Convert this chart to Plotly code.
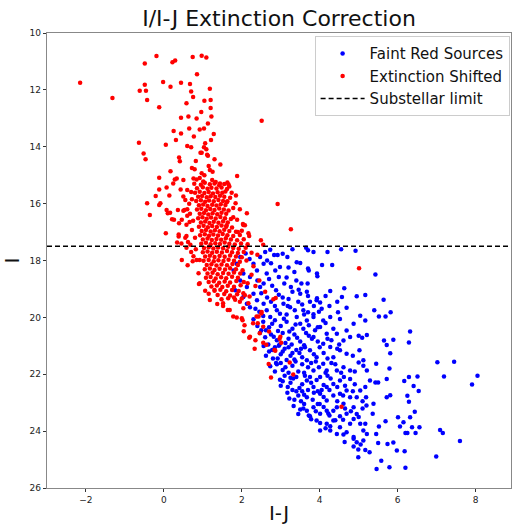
import plotly.graph_objects as go

# ---- data (I-J colour, I magnitude) ----
faint_points = [
(2.73,17.62),(2.83,17.81),(2.92,17.81),(3.05,17.76),(3.17,17.88),(3.65,17.55),(3.70,17.64),(3.84,17.70),(4.92,17.66),(4.55,17.6),(4.2,17.7),(3.3,17.6),
(3.41,18.06),(3.50,18.09),(3.70,18.28),(3.72,18.35),(3.93,18.46),(4.06,18.16),(4.32,18.16),(3.94,18.55),(5.43,18.49),(2.98,18.23),(2.86,18.35),(2.47,17.88),(2.30,18.11),(1.87,18.11),(1.96,17.88),(2.39,18.35),(2.56,18.11),(2.64,18.46),(1.79,18.35),(2.04,18.46),(2.21,18.58),(2.1,17.75),(2.2,17.95),(2.6,17.7),(2.65,18.0),(3.2,18.25),(3.35,18.4),(2.75,18.1),
(2.95,18.58),(2.78,18.89),(2.88,19.05),(3.09,18.81),(3.26,18.93),(3.46,19.03),(3.50,19.17),(3.67,19.10),(3.53,18.81),(3.69,18.81),(1.96,18.70),(2.13,18.93),(2.47,18.93),(2.56,18.81),(1.83,19.05),(2.30,19.17),(2.04,19.28),(2.4,18.7),(2.7,18.65),(3.15,18.6),(3.4,18.7),(2.5,19.15),(2.65,19.3),(2.95,19.2),(3.2,19.35),
(3.93,19.33),(4.27,19.07),(4.63,18.98),(4.57,19.28),(4.95,19.26),(5.17,19.21),(5.64,19.38),(3.92,19.40),(4.01,19.48),(3.24,19.64),(3.36,19.75),(3.07,19.52),(2.98,19.87),(2.73,19.99),(2.64,19.75),(2.56,19.52),(2.39,19.40),(2.21,19.64),(2.13,19.52),(2.85,19.6),(3.55,19.55),(3.75,19.45),(2.45,19.8),(3.15,19.9),(4.25,19.6),(4.45,19.45),
(3.41,19.99),(3.67,20.11),(3.84,19.99),(3.50,20.22),(4.69,19.66),(4.47,19.82),(4.52,20.06),(5.40,19.75),(5.52,19.97),(5.69,19.97),(5.82,19.82),(3.58,19.75),(3.70,19.82),(3.84,19.89),(3.98,19.80),(5.04,19.94),(5.17,20.11),(4.87,20.22),(4.27,19.99),(4.09,20.11),(2.30,20.07),(2.4,20.3),(2.55,20.15),(2.7,20.35),(2.85,20.1),(3.0,20.3),(3.15,20.15),(3.3,20.4),(3.95,20.35),
(2.47,20.54),(2.56,21.01),(2.6,20.7),(2.75,20.6),(2.9,20.8),(3.05,20.55),(3.2,20.75),(3.35,20.6),(3.5,20.85),(3.65,20.55),(3.8,20.75),(4.01,20.34),(4.18,20.58),(3.84,20.69),(4.09,20.93),(4.78,20.69),(4.69,20.46),(4.44,20.58),(4.61,20.81),(5.00,20.65),(5.09,20.72),(5.21,20.62),(6.32,20.50),(6.29,20.88),(5.65,20.81),(5.72,20.97),(5.89,20.79),(4.3,20.8),
(2.7,21.2),(2.85,21.05),(3.0,21.3),(3.1,21.1),(3.25,21.35),(3.4,21.15),(3.55,21.4),(3.75,21.16),(3.92,21.40),(3.67,21.51),(4.35,21.40),(4.52,21.16),(4.69,21.28),(4.27,21.04),(5.02,21.16),(5.81,21.26),(5.12,21.51),(4.1,21.25),(2.8,21.45),(3.15,21.5),
(2.73,21.72),(2.9,21.65),(3.05,21.85),(3.3,21.7),(3.45,21.9),(3.55,21.65),(4.09,21.63),(3.84,21.87),(4.18,21.87),(4.61,21.75),(4.78,21.87),(4.44,21.87),(5.00,21.59),(5.12,21.70),(5.21,21.87),(5.45,21.63),(5.79,21.80),(7.02,21.58),(7.45,21.56),(3.7,21.75),(4.3,21.6),(3.2,21.95),
(2.98,22.19),(3.1,22.05),(3.25,22.3),(3.4,22.1),(3.55,22.35),(4.01,22.10),(3.67,22.22),(3.84,22.45),(4.35,22.34),(4.18,22.45),(4.52,22.22),(4.78,22.17),(5.29,22.22),(5.17,22.45),(5.43,22.29),(5.50,22.29),(5.72,22.17),(6.17,22.24),(6.29,22.10),(6.51,22.08),(6.41,22.41),(7.19,22.08),(8.05,22.05),(7.91,22.36),(3.0,22.4),(4.2,22.05),(4.65,22.4),
(3.17,22.65),(3.3,22.55),(3.45,22.75),(3.55,22.6),(4.01,22.69),(3.67,22.81),(4.18,22.92),(4.69,22.57),(4.52,22.69),(4.78,22.81),(5.04,22.57),(4.95,22.81),(5.19,22.81),(5.72,22.81),(5.81,22.74),(6.54,22.59),(6.25,22.76),(6.29,22.97),(3.85,22.65),(4.35,22.75),(3.35,22.9),
(3.33,23.12),(3.50,23.24),(3.84,23.16),(4.01,23.39),(3.67,23.28),(4.18,23.28),(4.61,23.04),(4.44,23.16),(4.35,23.28),(4.87,23.16),(5.38,23.04),(5.36,23.39),(4.69,23.39),(6.44,23.32),(3.6,23.05),(4.0,23.05),(4.8,23.3),(5.1,23.2),(4.25,23.45),
(3.75,23.48),(3.78,23.58),(3.92,23.63),(4.01,23.71),(4.27,23.83),(4.35,23.63),(4.18,23.74),(4.52,23.86),(4.87,23.57),(4.78,23.74),(5.04,23.74),(5.17,23.74),(5.69,23.65),(5.52,23.84),(6.32,23.51),(6.01,23.51),(6.15,23.69),(6.06,23.84),(6.37,23.86),(6.56,23.86),(4.6,23.6),(5.0,23.5),
(4.01,23.98),(4.27,23.98),(4.44,24.10),(4.69,24.04),(4.61,24.12),(4.87,24.21),(5.12,23.98),(5.21,24.10),(5.45,24.10),(6.25,24.07),(6.46,24.07),(6.20,24.07),(7.09,23.96),(7.16,24.07),(4.87,24.27),(4.95,24.39),(5.12,24.33),(4.64,24.38),(5.05,24.47),(4.87,24.54),(5.50,24.42),(5.74,24.45),(5.89,24.40),(7.60,24.35),
(4.99,24.65),(5.17,24.66),(5.28,24.74),(4.99,24.92),(5.98,24.68),(6.18,24.71),(6.99,24.89),(5.58,25.04),(5.46,25.33),(5.79,25.27),(6.20,25.29),
(2.62,20.45),(2.78,20.22),(2.93,20.48),(3.08,20.05),(3.22,20.5),(3.38,20.25),(3.58,20.4),(3.72,20.28),(3.88,20.45),(4.15,20.2),(4.35,20.4),(2.5,20.45),
(2.68,20.95),(2.82,20.68),(2.97,20.95),(3.12,20.9),(3.28,20.95),(3.42,20.72),(3.6,20.98),(3.72,20.65),(3.95,20.85),(4.2,20.75),(4.5,20.95),
(2.62,21.35),(2.78,21.15),(2.92,21.45),(3.05,21.2),(3.2,21.05),(3.35,21.48),(3.48,21.25),(3.62,21.05),(3.85,21.3),(4.0,21.05),(4.2,21.45),(4.45,21.1),(4.85,21.35),
(2.85,21.9),(3.0,21.6),(3.12,21.75),(3.38,21.55),(3.6,21.95),(3.78,21.6),(3.98,21.75),(4.15,21.95),(4.4,21.65),(4.55,21.95),(4.9,21.9),
(3.05,22.25),(3.18,22.45),(3.32,22.15),(3.48,22.48),(3.62,22.05),(3.78,22.3),(3.92,22.2),(4.1,22.38),(4.28,22.15),(4.45,22.45),(4.62,22.1),(4.9,22.35),
(3.22,22.85),(3.4,22.6),(3.52,22.95),(3.7,22.55),(3.82,22.9),(3.95,22.6),(4.1,22.8),(4.25,22.55),(4.45,22.95),(4.6,22.75),(4.85,22.6),(5.1,22.95),
(3.45,23.4),(3.58,23.2),(3.72,23.45),(3.9,23.3),(4.1,23.15),(4.22,23.38),(4.52,23.48),(4.65,23.2),(4.95,23.4),(5.2,23.1),
(2.75,19.45),(2.9,19.75),(3.05,19.3),(3.18,19.6),(3.3,19.1),(3.45,19.45),(3.6,19.9),(3.7,19.25),(3.85,19.6),(4.05,19.7),(4.15,19.25),(2.55,19.95),(2.35,19.7),
(2.95,21.0),(3.3,21.25),(3.52,21.1),(3.9,21.55),(2.88,21.6),(3.25,22.12),(3.75,22.1),(4.05,22.55),(3.6,22.72),(3.95,23.05),(4.4,23.62),(4.15,23.9),
]

shifted_points = [
# sparse upper part
(-2.15,11.75),(-1.32,12.29),(-0.19,10.81),(-0.49,11.07),(0.22,11.03),(0.29,10.97),(0.74,10.84),(0.97,10.80),(1.09,10.86),(0.85,11.45),
(-0.49,11.82),(-0.62,12.03),(-0.46,12.03),(-0.43,12.36),(-0.02,11.72),(0.17,11.89),(0.44,11.75),(0.67,11.79),(1.18,11.96),(0.70,12.06),
(0.75,12.25),(0.58,12.47),(1.04,12.38),(1.20,12.36),(1.20,12.64),(0.96,12.78),(-0.12,12.61),(0.44,12.98),(0.63,12.94),(0.84,13.01),
(1.22,12.94),(1.13,13.18),(2.51,13.09),(0.65,13.36),(0.92,13.39),(1.03,13.36),(0.25,13.45),(0.44,13.53),(1.28,13.55),(0.77,13.64),
(0.31,13.76),(1.21,13.76),(-0.64,13.86),(0.05,13.93),(0.60,13.97),(0.70,14.02),(1.06,13.88),(1.03,14.02),(1.09,14.09),(-0.52,14.24),
(0.97,14.21),(1.13,14.32),(-0.47,14.44),(0.39,14.38),(0.41,14.51),(0.82,14.50),(1.30,14.44),(1.45,14.62),(0.17,14.86),(0.72,14.75),
(0.79,14.79),(1.15,14.68),(1.18,14.82),(1.25,14.88),(1.88,15.03),(0.97,14.93),(0.92,15.10),(-0.12,15.09),(0.28,15.15),(0.50,15.17),
(0.94,14.21),(1.11,14.28),(1.04,15.00),(0.33,15.12),(0.76,15.12),(0.84,15.15),(1.01,15.22),(1.24,15.17),(1.33,15.24),(1.44,15.29),
(1.63,15.26),(1.68,15.40),(1.66,15.33),
# left wing
(-0.43,15.99),(-0.36,16.40),(-0.12,16.05),(-0.21,15.73),(-0.12,15.50),(0.07,15.43),(0.24,15.29),(0.07,16.22),(0.10,16.34),(0.21,16.55),
(0.05,17.04),(0.36,16.22),(0.50,16.25),(0.60,16.20),(0.38,17.16),(0.34,17.37),(0.46,17.98),(0.61,18.17),(0.74,18.03),(0.84,17.98),
(0.89,18.45),(0.90,18.83),(0.43,15.50),(0.60,15.52),(0.70,15.59),(0.14,15.71),(0.50,15.75),(0.55,15.87),(-0.09,15.99),(0.16,16.32),
(0.53,16.22),(0.60,16.43),(0.67,16.36),(0.26,16.57),(0.39,16.69),(0.46,16.57),(0.58,16.74),(0.38,17.09),(0.58,17.14),(0.72,16.93),
(0.92,17.98),(0.45,17.40),(0.62,17.35),(0.55,17.20),(0.68,17.45),(0.75,16.60),(0.80,17.20),(0.70,17.70),(0.82,17.60),(0.65,16.00),
(0.72,15.85),(0.58,17.55),(0.76,17.85),(0.66,16.65),
# right wing
(1.84,15.99),(1.85,15.71),(1.74,15.62),(1.63,15.92),(2.13,16.34),(1.78,16.48),(1.88,16.57),(1.61,16.76),(2.08,16.76),(2.04,16.75),
(2.17,17.04),(2.19,17.14),(2.03,16.72),(2.49,17.29),(2.92,16.01),(3.26,16.90),(1.95,16.20),(2.00,16.95),(1.90,17.00),(1.78,16.15),
# dense core
(0.78,15.3),(0.95,15.34),(1.05,15.27),(1.18,15.32),(1.30,15.29),(1.42,15.35),(1.55,15.31),
(0.85,15.46),(1.00,15.42),(1.12,15.48),(1.22,15.44),(1.35,15.47),(1.48,15.43),(1.62,15.49),
(0.80,15.62),(0.92,15.58),(1.04,15.63),(1.15,15.59),(1.26,15.64),(1.38,15.6),(1.50,15.62),(1.58,15.57),
(0.88,15.76),(0.98,15.73),(1.10,15.78),(1.20,15.74),(1.32,15.77),(1.44,15.72),(1.55,15.76),(1.70,15.79),
(0.83,15.91),(0.95,15.88),(1.06,15.93),(1.16,15.89),(1.28,15.92),(1.40,15.87),(1.52,15.91),(1.62,15.94),
(0.90,16.06),(1.01,16.03),(1.12,16.08),(1.24,16.04),(1.35,16.07),(1.46,16.02),(1.58,16.05),
(0.85,16.21),(0.96,16.18),(1.08,16.23),(1.19,16.19),(1.30,16.22),(1.42,16.17),(1.54,16.21),(1.66,16.24),
(0.92,16.36),(1.03,16.33),(1.14,16.38),(1.25,16.34),(1.37,16.37),(1.48,16.32),(1.60,16.36),
(0.88,16.51),(0.99,16.48),(1.10,16.53),(1.21,16.49),(1.33,16.52),(1.45,16.47),(1.57,16.51),(1.72,16.54),
(0.95,16.66),(1.06,16.63),(1.17,16.68),(1.28,16.64),(1.40,16.67),(1.52,16.62),(1.64,16.66),
(0.90,16.81),(1.02,16.78),(1.13,16.83),(1.24,16.79),(1.36,16.82),(1.48,16.77),(1.60,16.81),(1.75,16.84),
(0.97,16.96),(1.08,16.93),(1.20,16.98),(1.31,16.94),(1.43,16.97),(1.55,16.92),(1.68,16.96),(1.85,16.99),
(0.93,17.11),(1.05,17.08),(1.16,17.13),(1.27,17.09),(1.39,17.12),(1.51,17.07),(1.63,17.11),(1.78,17.14),(1.95,17.1),
(1.00,17.26),(1.12,17.23),(1.23,17.28),(1.35,17.24),(1.47,17.27),(1.59,17.22),(1.72,17.26),(1.88,17.29),(2.05,17.25),
(0.96,17.41),(1.08,17.38),(1.20,17.43),(1.32,17.39),(1.44,17.42),(1.56,17.37),(1.68,17.41),(1.82,17.44),(1.98,17.4),(2.15,17.43),
(1.03,17.56),(1.15,17.53),(1.27,17.58),(1.39,17.54),(1.52,17.57),(1.65,17.52),(1.78,17.56),(1.92,17.59),(2.10,17.55),
(1.00,17.71),(1.12,17.68),(1.24,17.73),(1.36,17.69),(1.49,17.72),(1.62,17.67),(1.75,17.71),(1.90,17.74),(2.05,17.7),(2.25,17.73),
(1.06,17.86),(1.18,17.83),(1.30,17.88),(1.43,17.84),(1.56,17.87),(1.70,17.82),(1.85,17.86),(2.00,17.89),
(1.02,18.01),(1.15,17.98),(1.28,18.03),(1.40,17.99),(1.53,18.02),(1.66,17.97),(1.80,18.01),(1.95,18.04),(2.12,18.0),
(1.10,18.16),(1.22,18.13),(1.35,18.18),(1.48,18.14),(1.62,18.17),(1.76,18.12),(1.90,18.16),
(1.05,18.31),(1.18,18.28),(1.30,18.33),(1.43,18.29),(1.57,18.32),(1.70,18.27),(1.85,18.31),(2.02,18.34),
(1.12,18.46),(1.25,18.43),(1.38,18.48),(1.52,18.44),(1.66,18.47),(1.80,18.42),(1.96,18.46),
(1.08,18.61),(1.20,18.58),(1.33,18.63),(1.47,18.59),(1.60,18.62),(1.75,18.57),(1.90,18.61),
(1.15,18.76),(1.28,18.73),(1.42,18.78),(1.56,18.74),(1.70,18.77),(1.86,18.72),(2.05,18.76),
(1.22,18.91),(1.36,18.88),(1.50,18.93),(1.64,18.89),(1.80,18.92),(1.97,18.87),
(1.30,19.06),(1.45,19.03),(1.60,19.08),(1.75,19.04),(1.92,19.07),
(1.38,19.21),(1.55,19.18),(1.70,19.23),(1.88,19.19),(2.08,19.22),
(1.48,19.36),(1.65,19.33),(1.83,19.38),(2.00,19.34),
# lower tail
(1.18,19.39),(1.06,19.06),(1.15,19.17),(1.30,19.04),(1.37,19.53),(0.92,18.80),(1.52,19.60),(1.69,19.74),(1.78,19.97),(2.00,20.03),
(2.21,20.68),(2.35,20.80),(2.99,20.68),(1.52,19.50),(1.64,19.74),(1.87,20.00),(2.02,20.10),(2.29,20.21),(2.43,19.97),(2.51,19.81),
(2.04,19.68),(2.04,19.15),(2.20,19.27),(2.17,19.50),(2.07,20.28),(2.05,20.49),(2.19,20.72),(2.33,21.10),(2.46,20.56),(2.55,20.33),
(2.41,20.21),(2.38,19.97),(2.50,19.86),(2.55,20.89),(2.63,20.96),(2.84,21.15),(2.97,20.75),(3.01,20.89),(2.81,19.36),(2.87,19.32),
(3.23,21.59),(2.75,22.11),(3.32,22.01),(4.56,23.14),(2.86,21.17),(2.69,21.64),(5.01,18.27),(2.25,18.50),(2.35,18.90),(2.30,18.20),
(2.45,18.70),(2.60,19.10),(2.15,18.80),(1.95,19.45),(1.80,19.30),(2.70,20.50),(2.40,17.80),(2.55,17.45),
]

faint_ij = [p[0] for p in faint_points]
faint_i = [p[1] for p in faint_points]
shifted_ij = [p[0] for p in shifted_points]
shifted_i = [p[1] for p in shifted_points]

substellar_limit = 17.5
x_range = [-3.0, 8.91]
y_range = [26, 10]

fig = go.Figure()
fig.add_trace(go.Scatter(x=faint_ij, y=faint_i, mode="markers", name="Faint Red Sources",
                         marker=dict(color="blue", size=4.5, line=dict(width=0))))
fig.add_trace(go.Scatter(x=shifted_ij, y=shifted_i, mode="markers", name="Extinction Shifted",
                         marker=dict(color="red", size=4.5, line=dict(width=0))))
fig.add_trace(go.Scatter(x=x_range, y=[substellar_limit, substellar_limit], mode="lines",
                         name="Substellar limit", line=dict(color="black", width=1.5, dash="5px,3px")))

axis_common = dict(showline=True, linecolor="#888888", linewidth=1.3, mirror=True, ticks="outside",
                   ticklen=3, tickcolor="#333", showgrid=False, zeroline=False, automargin=False,
                   tickfont=dict(family="DejaVu Sans", size=9, color="#222"))
fig.update_xaxes(range=x_range, tickmode="array", tickvals=[-2, 0, 2, 4, 6, 8],
                 title=dict(text="I-J", font=dict(family="DejaVu Sans", size=20, color="#111"), standoff=2),
                 **axis_common)
fig.update_yaxes(range=y_range, tickmode="array", tickvals=[10, 12, 14, 16, 18, 20, 22, 24, 26],
                 title=dict(text="I", font=dict(family="DejaVu Sans", size=20, color="#111"), standoff=14),
                 **axis_common)
fig.update_layout(
    width=512, height=526,
    margin=dict(l=47, r=1, t=33, b=38),
    paper_bgcolor="white", plot_bgcolor="white",
    title=dict(text="I/I-J Extinction Correction", x=0.5, xref="paper", y=0.966, yref="container",
               yanchor="middle", font=dict(family="DejaVu Sans", size=22, color="#111"), automargin=False),
    legend=dict(x=0.997, y=0.993, xanchor="right", yanchor="top", bgcolor="rgba(255,255,255,0.9)",
                bordercolor="#cccccc", borderwidth=1, font=dict(family="DejaVu Sans", size=15, color="#111"),
                itemwidth=44, tracegroupgap=2),
    showlegend=True,
)
fig.write_html("out.html", config={"displayModeBar": False},
               post_script="document.body.style.margin='0';document.body.style.overflow='hidden';")
